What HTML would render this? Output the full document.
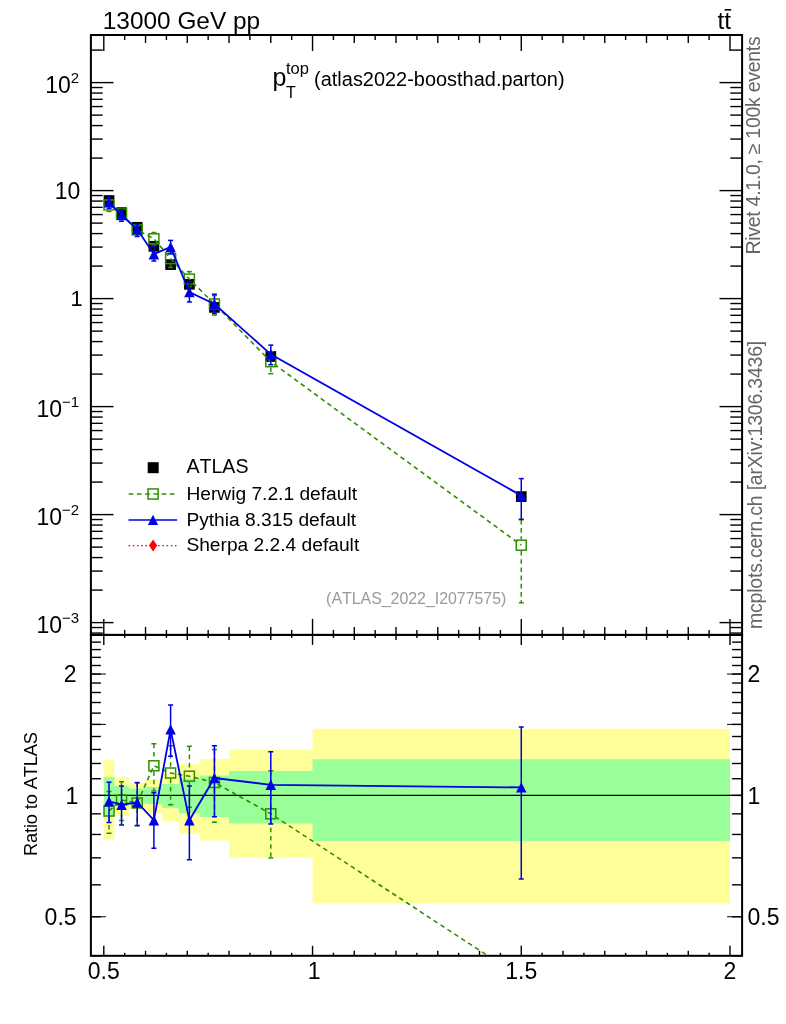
<!DOCTYPE html>
<html><head><meta charset="utf-8"><style>
html,body{margin:0;padding:0;background:#fff;width:786px;height:1024px;overflow:hidden}
svg{display:block;will-change:transform}
text{font-family:"Liberation Sans",sans-serif;font-kerning:none;font-feature-settings:"kern" 0}
</style></head><body>
<svg width="786" height="1024" viewBox="0 0 786 1024" font-family="Liberation Sans, sans-serif">
<defs><clipPath id="cmain"><rect x="90.9" y="35.0" width="651.2" height="599.9"/></clipPath>
<clipPath id="cratio"><rect x="90.9" y="634.9" width="651.2" height="320.9"/></clipPath></defs>
<rect width="786" height="1024" fill="#fff"/>
<path d="M103.80,759.90 L114.24,759.90 L114.24,777.10 L128.85,777.10 L128.85,782.70 L145.55,782.70 L145.55,779.10 L162.25,779.10 L162.25,773.90 L178.94,773.90 L178.94,764.20 L199.82,764.20 L199.82,758.90 L229.04,758.90 L229.04,749.60 L312.54,749.60 L312.54,728.80 L730.00,728.80 L730.00,903.60 L312.54,903.60 L312.54,857.40 L229.04,857.40 L229.04,840.40 L199.82,840.40 L199.82,833.30 L178.94,833.30 L178.94,821.00 L162.25,821.00 L162.25,813.40 L145.55,813.40 L145.55,809.50 L128.85,809.50 L128.85,815.90 L114.24,815.90 L114.24,839.60 L103.80,839.60 Z" fill="#ffff99"/>
<path d="M103.80,777.10 L114.24,777.10 L114.24,786.00 L128.85,786.00 L128.85,788.40 L145.55,788.40 L145.55,787.00 L162.25,787.00 L162.25,784.10 L178.94,784.10 L178.94,778.80 L199.82,778.80 L199.82,775.40 L229.04,775.40 L229.04,771.00 L312.54,771.00 L312.54,759.30 L730.00,759.30 L730.00,841.10 L312.54,841.10 L312.54,823.50 L229.04,823.50 L229.04,816.90 L199.82,816.90 L199.82,813.60 L178.94,813.60 L178.94,807.80 L162.25,807.80 L162.25,804.00 L145.55,804.00 L145.55,803.20 L128.85,803.20 L128.85,805.60 L114.24,805.60 L114.24,816.50 L103.80,816.50 Z" fill="#99ff99"/>
<line x1="90.90" y1="795.40" x2="742.10" y2="795.40" stroke="#000" stroke-width="1.2" />
<line x1="103.80" y1="35.00" x2="103.80" y2="51.00" stroke="#000" stroke-width="1.4" />
<line x1="124.67" y1="35.00" x2="124.67" y2="40.00" stroke="#000" stroke-width="1.4" />
<line x1="145.55" y1="35.00" x2="145.55" y2="43.00" stroke="#000" stroke-width="1.4" />
<line x1="166.42" y1="35.00" x2="166.42" y2="40.00" stroke="#000" stroke-width="1.4" />
<line x1="187.29" y1="35.00" x2="187.29" y2="43.00" stroke="#000" stroke-width="1.4" />
<line x1="208.17" y1="35.00" x2="208.17" y2="40.00" stroke="#000" stroke-width="1.4" />
<line x1="229.04" y1="35.00" x2="229.04" y2="43.00" stroke="#000" stroke-width="1.4" />
<line x1="249.91" y1="35.00" x2="249.91" y2="40.00" stroke="#000" stroke-width="1.4" />
<line x1="270.79" y1="35.00" x2="270.79" y2="43.00" stroke="#000" stroke-width="1.4" />
<line x1="291.66" y1="35.00" x2="291.66" y2="40.00" stroke="#000" stroke-width="1.4" />
<line x1="312.54" y1="35.00" x2="312.54" y2="51.00" stroke="#000" stroke-width="1.4" />
<line x1="333.41" y1="35.00" x2="333.41" y2="40.00" stroke="#000" stroke-width="1.4" />
<line x1="354.28" y1="35.00" x2="354.28" y2="43.00" stroke="#000" stroke-width="1.4" />
<line x1="375.16" y1="35.00" x2="375.16" y2="40.00" stroke="#000" stroke-width="1.4" />
<line x1="396.03" y1="35.00" x2="396.03" y2="43.00" stroke="#000" stroke-width="1.4" />
<line x1="416.90" y1="35.00" x2="416.90" y2="40.00" stroke="#000" stroke-width="1.4" />
<line x1="437.78" y1="35.00" x2="437.78" y2="43.00" stroke="#000" stroke-width="1.4" />
<line x1="458.65" y1="35.00" x2="458.65" y2="40.00" stroke="#000" stroke-width="1.4" />
<line x1="479.52" y1="35.00" x2="479.52" y2="43.00" stroke="#000" stroke-width="1.4" />
<line x1="500.40" y1="35.00" x2="500.40" y2="40.00" stroke="#000" stroke-width="1.4" />
<line x1="521.27" y1="35.00" x2="521.27" y2="51.00" stroke="#000" stroke-width="1.4" />
<line x1="542.14" y1="35.00" x2="542.14" y2="40.00" stroke="#000" stroke-width="1.4" />
<line x1="563.02" y1="35.00" x2="563.02" y2="43.00" stroke="#000" stroke-width="1.4" />
<line x1="583.89" y1="35.00" x2="583.89" y2="40.00" stroke="#000" stroke-width="1.4" />
<line x1="604.76" y1="35.00" x2="604.76" y2="43.00" stroke="#000" stroke-width="1.4" />
<line x1="625.64" y1="35.00" x2="625.64" y2="40.00" stroke="#000" stroke-width="1.4" />
<line x1="646.51" y1="35.00" x2="646.51" y2="43.00" stroke="#000" stroke-width="1.4" />
<line x1="667.38" y1="35.00" x2="667.38" y2="40.00" stroke="#000" stroke-width="1.4" />
<line x1="688.26" y1="35.00" x2="688.26" y2="43.00" stroke="#000" stroke-width="1.4" />
<line x1="709.13" y1="35.00" x2="709.13" y2="40.00" stroke="#000" stroke-width="1.4" />
<line x1="730.00" y1="35.00" x2="730.00" y2="51.00" stroke="#000" stroke-width="1.4" />
<line x1="103.80" y1="634.90" x2="103.80" y2="618.90" stroke="#000" stroke-width="1.4" />
<line x1="124.67" y1="634.90" x2="124.67" y2="629.90" stroke="#000" stroke-width="1.4" />
<line x1="145.55" y1="634.90" x2="145.55" y2="626.90" stroke="#000" stroke-width="1.4" />
<line x1="166.42" y1="634.90" x2="166.42" y2="629.90" stroke="#000" stroke-width="1.4" />
<line x1="187.29" y1="634.90" x2="187.29" y2="626.90" stroke="#000" stroke-width="1.4" />
<line x1="208.17" y1="634.90" x2="208.17" y2="629.90" stroke="#000" stroke-width="1.4" />
<line x1="229.04" y1="634.90" x2="229.04" y2="626.90" stroke="#000" stroke-width="1.4" />
<line x1="249.91" y1="634.90" x2="249.91" y2="629.90" stroke="#000" stroke-width="1.4" />
<line x1="270.79" y1="634.90" x2="270.79" y2="626.90" stroke="#000" stroke-width="1.4" />
<line x1="291.66" y1="634.90" x2="291.66" y2="629.90" stroke="#000" stroke-width="1.4" />
<line x1="312.54" y1="634.90" x2="312.54" y2="618.90" stroke="#000" stroke-width="1.4" />
<line x1="333.41" y1="634.90" x2="333.41" y2="629.90" stroke="#000" stroke-width="1.4" />
<line x1="354.28" y1="634.90" x2="354.28" y2="626.90" stroke="#000" stroke-width="1.4" />
<line x1="375.16" y1="634.90" x2="375.16" y2="629.90" stroke="#000" stroke-width="1.4" />
<line x1="396.03" y1="634.90" x2="396.03" y2="626.90" stroke="#000" stroke-width="1.4" />
<line x1="416.90" y1="634.90" x2="416.90" y2="629.90" stroke="#000" stroke-width="1.4" />
<line x1="437.78" y1="634.90" x2="437.78" y2="626.90" stroke="#000" stroke-width="1.4" />
<line x1="458.65" y1="634.90" x2="458.65" y2="629.90" stroke="#000" stroke-width="1.4" />
<line x1="479.52" y1="634.90" x2="479.52" y2="626.90" stroke="#000" stroke-width="1.4" />
<line x1="500.40" y1="634.90" x2="500.40" y2="629.90" stroke="#000" stroke-width="1.4" />
<line x1="521.27" y1="634.90" x2="521.27" y2="618.90" stroke="#000" stroke-width="1.4" />
<line x1="542.14" y1="634.90" x2="542.14" y2="629.90" stroke="#000" stroke-width="1.4" />
<line x1="563.02" y1="634.90" x2="563.02" y2="626.90" stroke="#000" stroke-width="1.4" />
<line x1="583.89" y1="634.90" x2="583.89" y2="629.90" stroke="#000" stroke-width="1.4" />
<line x1="604.76" y1="634.90" x2="604.76" y2="626.90" stroke="#000" stroke-width="1.4" />
<line x1="625.64" y1="634.90" x2="625.64" y2="629.90" stroke="#000" stroke-width="1.4" />
<line x1="646.51" y1="634.90" x2="646.51" y2="626.90" stroke="#000" stroke-width="1.4" />
<line x1="667.38" y1="634.90" x2="667.38" y2="629.90" stroke="#000" stroke-width="1.4" />
<line x1="688.26" y1="634.90" x2="688.26" y2="626.90" stroke="#000" stroke-width="1.4" />
<line x1="709.13" y1="634.90" x2="709.13" y2="629.90" stroke="#000" stroke-width="1.4" />
<line x1="730.00" y1="634.90" x2="730.00" y2="618.90" stroke="#000" stroke-width="1.4" />
<line x1="90.90" y1="633.07" x2="102.70" y2="633.07" stroke="#000" stroke-width="1.4" />
<line x1="90.90" y1="627.54" x2="102.70" y2="627.54" stroke="#000" stroke-width="1.4" />
<line x1="90.90" y1="622.60" x2="113.50" y2="622.60" stroke="#000" stroke-width="1.4" />
<line x1="90.90" y1="590.09" x2="102.70" y2="590.09" stroke="#000" stroke-width="1.4" />
<line x1="90.90" y1="571.07" x2="102.70" y2="571.07" stroke="#000" stroke-width="1.4" />
<line x1="90.90" y1="557.58" x2="102.70" y2="557.58" stroke="#000" stroke-width="1.4" />
<line x1="90.90" y1="547.11" x2="102.70" y2="547.11" stroke="#000" stroke-width="1.4" />
<line x1="90.90" y1="538.56" x2="102.70" y2="538.56" stroke="#000" stroke-width="1.4" />
<line x1="90.90" y1="531.33" x2="102.70" y2="531.33" stroke="#000" stroke-width="1.4" />
<line x1="90.90" y1="525.07" x2="102.70" y2="525.07" stroke="#000" stroke-width="1.4" />
<line x1="90.90" y1="519.54" x2="102.70" y2="519.54" stroke="#000" stroke-width="1.4" />
<line x1="90.90" y1="514.60" x2="113.50" y2="514.60" stroke="#000" stroke-width="1.4" />
<line x1="90.90" y1="482.09" x2="102.70" y2="482.09" stroke="#000" stroke-width="1.4" />
<line x1="90.90" y1="463.07" x2="102.70" y2="463.07" stroke="#000" stroke-width="1.4" />
<line x1="90.90" y1="449.58" x2="102.70" y2="449.58" stroke="#000" stroke-width="1.4" />
<line x1="90.90" y1="439.11" x2="102.70" y2="439.11" stroke="#000" stroke-width="1.4" />
<line x1="90.90" y1="430.56" x2="102.70" y2="430.56" stroke="#000" stroke-width="1.4" />
<line x1="90.90" y1="423.33" x2="102.70" y2="423.33" stroke="#000" stroke-width="1.4" />
<line x1="90.90" y1="417.07" x2="102.70" y2="417.07" stroke="#000" stroke-width="1.4" />
<line x1="90.90" y1="411.54" x2="102.70" y2="411.54" stroke="#000" stroke-width="1.4" />
<line x1="90.90" y1="406.60" x2="113.50" y2="406.60" stroke="#000" stroke-width="1.4" />
<line x1="90.90" y1="374.09" x2="102.70" y2="374.09" stroke="#000" stroke-width="1.4" />
<line x1="90.90" y1="355.07" x2="102.70" y2="355.07" stroke="#000" stroke-width="1.4" />
<line x1="90.90" y1="341.58" x2="102.70" y2="341.58" stroke="#000" stroke-width="1.4" />
<line x1="90.90" y1="331.11" x2="102.70" y2="331.11" stroke="#000" stroke-width="1.4" />
<line x1="90.90" y1="322.56" x2="102.70" y2="322.56" stroke="#000" stroke-width="1.4" />
<line x1="90.90" y1="315.33" x2="102.70" y2="315.33" stroke="#000" stroke-width="1.4" />
<line x1="90.90" y1="309.07" x2="102.70" y2="309.07" stroke="#000" stroke-width="1.4" />
<line x1="90.90" y1="303.54" x2="102.70" y2="303.54" stroke="#000" stroke-width="1.4" />
<line x1="90.90" y1="298.60" x2="113.50" y2="298.60" stroke="#000" stroke-width="1.4" />
<line x1="90.90" y1="266.09" x2="102.70" y2="266.09" stroke="#000" stroke-width="1.4" />
<line x1="90.90" y1="247.07" x2="102.70" y2="247.07" stroke="#000" stroke-width="1.4" />
<line x1="90.90" y1="233.58" x2="102.70" y2="233.58" stroke="#000" stroke-width="1.4" />
<line x1="90.90" y1="223.11" x2="102.70" y2="223.11" stroke="#000" stroke-width="1.4" />
<line x1="90.90" y1="214.56" x2="102.70" y2="214.56" stroke="#000" stroke-width="1.4" />
<line x1="90.90" y1="207.33" x2="102.70" y2="207.33" stroke="#000" stroke-width="1.4" />
<line x1="90.90" y1="201.07" x2="102.70" y2="201.07" stroke="#000" stroke-width="1.4" />
<line x1="90.90" y1="195.54" x2="102.70" y2="195.54" stroke="#000" stroke-width="1.4" />
<line x1="90.90" y1="190.60" x2="113.50" y2="190.60" stroke="#000" stroke-width="1.4" />
<line x1="90.90" y1="158.09" x2="102.70" y2="158.09" stroke="#000" stroke-width="1.4" />
<line x1="90.90" y1="139.07" x2="102.70" y2="139.07" stroke="#000" stroke-width="1.4" />
<line x1="90.90" y1="125.58" x2="102.70" y2="125.58" stroke="#000" stroke-width="1.4" />
<line x1="90.90" y1="115.11" x2="102.70" y2="115.11" stroke="#000" stroke-width="1.4" />
<line x1="90.90" y1="106.56" x2="102.70" y2="106.56" stroke="#000" stroke-width="1.4" />
<line x1="90.90" y1="99.33" x2="102.70" y2="99.33" stroke="#000" stroke-width="1.4" />
<line x1="90.90" y1="93.07" x2="102.70" y2="93.07" stroke="#000" stroke-width="1.4" />
<line x1="90.90" y1="87.54" x2="102.70" y2="87.54" stroke="#000" stroke-width="1.4" />
<line x1="90.90" y1="82.60" x2="113.50" y2="82.60" stroke="#000" stroke-width="1.4" />
<line x1="90.90" y1="50.09" x2="102.70" y2="50.09" stroke="#000" stroke-width="1.4" />
<line x1="742.10" y1="633.07" x2="730.30" y2="633.07" stroke="#000" stroke-width="1.4" />
<line x1="742.10" y1="627.54" x2="730.30" y2="627.54" stroke="#000" stroke-width="1.4" />
<line x1="742.10" y1="622.60" x2="719.50" y2="622.60" stroke="#000" stroke-width="1.4" />
<line x1="742.10" y1="590.09" x2="730.30" y2="590.09" stroke="#000" stroke-width="1.4" />
<line x1="742.10" y1="571.07" x2="730.30" y2="571.07" stroke="#000" stroke-width="1.4" />
<line x1="742.10" y1="557.58" x2="730.30" y2="557.58" stroke="#000" stroke-width="1.4" />
<line x1="742.10" y1="547.11" x2="730.30" y2="547.11" stroke="#000" stroke-width="1.4" />
<line x1="742.10" y1="538.56" x2="730.30" y2="538.56" stroke="#000" stroke-width="1.4" />
<line x1="742.10" y1="531.33" x2="730.30" y2="531.33" stroke="#000" stroke-width="1.4" />
<line x1="742.10" y1="525.07" x2="730.30" y2="525.07" stroke="#000" stroke-width="1.4" />
<line x1="742.10" y1="519.54" x2="730.30" y2="519.54" stroke="#000" stroke-width="1.4" />
<line x1="742.10" y1="514.60" x2="719.50" y2="514.60" stroke="#000" stroke-width="1.4" />
<line x1="742.10" y1="482.09" x2="730.30" y2="482.09" stroke="#000" stroke-width="1.4" />
<line x1="742.10" y1="463.07" x2="730.30" y2="463.07" stroke="#000" stroke-width="1.4" />
<line x1="742.10" y1="449.58" x2="730.30" y2="449.58" stroke="#000" stroke-width="1.4" />
<line x1="742.10" y1="439.11" x2="730.30" y2="439.11" stroke="#000" stroke-width="1.4" />
<line x1="742.10" y1="430.56" x2="730.30" y2="430.56" stroke="#000" stroke-width="1.4" />
<line x1="742.10" y1="423.33" x2="730.30" y2="423.33" stroke="#000" stroke-width="1.4" />
<line x1="742.10" y1="417.07" x2="730.30" y2="417.07" stroke="#000" stroke-width="1.4" />
<line x1="742.10" y1="411.54" x2="730.30" y2="411.54" stroke="#000" stroke-width="1.4" />
<line x1="742.10" y1="406.60" x2="719.50" y2="406.60" stroke="#000" stroke-width="1.4" />
<line x1="742.10" y1="374.09" x2="730.30" y2="374.09" stroke="#000" stroke-width="1.4" />
<line x1="742.10" y1="355.07" x2="730.30" y2="355.07" stroke="#000" stroke-width="1.4" />
<line x1="742.10" y1="341.58" x2="730.30" y2="341.58" stroke="#000" stroke-width="1.4" />
<line x1="742.10" y1="331.11" x2="730.30" y2="331.11" stroke="#000" stroke-width="1.4" />
<line x1="742.10" y1="322.56" x2="730.30" y2="322.56" stroke="#000" stroke-width="1.4" />
<line x1="742.10" y1="315.33" x2="730.30" y2="315.33" stroke="#000" stroke-width="1.4" />
<line x1="742.10" y1="309.07" x2="730.30" y2="309.07" stroke="#000" stroke-width="1.4" />
<line x1="742.10" y1="303.54" x2="730.30" y2="303.54" stroke="#000" stroke-width="1.4" />
<line x1="742.10" y1="298.60" x2="719.50" y2="298.60" stroke="#000" stroke-width="1.4" />
<line x1="742.10" y1="266.09" x2="730.30" y2="266.09" stroke="#000" stroke-width="1.4" />
<line x1="742.10" y1="247.07" x2="730.30" y2="247.07" stroke="#000" stroke-width="1.4" />
<line x1="742.10" y1="233.58" x2="730.30" y2="233.58" stroke="#000" stroke-width="1.4" />
<line x1="742.10" y1="223.11" x2="730.30" y2="223.11" stroke="#000" stroke-width="1.4" />
<line x1="742.10" y1="214.56" x2="730.30" y2="214.56" stroke="#000" stroke-width="1.4" />
<line x1="742.10" y1="207.33" x2="730.30" y2="207.33" stroke="#000" stroke-width="1.4" />
<line x1="742.10" y1="201.07" x2="730.30" y2="201.07" stroke="#000" stroke-width="1.4" />
<line x1="742.10" y1="195.54" x2="730.30" y2="195.54" stroke="#000" stroke-width="1.4" />
<line x1="742.10" y1="190.60" x2="719.50" y2="190.60" stroke="#000" stroke-width="1.4" />
<line x1="742.10" y1="158.09" x2="730.30" y2="158.09" stroke="#000" stroke-width="1.4" />
<line x1="742.10" y1="139.07" x2="730.30" y2="139.07" stroke="#000" stroke-width="1.4" />
<line x1="742.10" y1="125.58" x2="730.30" y2="125.58" stroke="#000" stroke-width="1.4" />
<line x1="742.10" y1="115.11" x2="730.30" y2="115.11" stroke="#000" stroke-width="1.4" />
<line x1="742.10" y1="106.56" x2="730.30" y2="106.56" stroke="#000" stroke-width="1.4" />
<line x1="742.10" y1="99.33" x2="730.30" y2="99.33" stroke="#000" stroke-width="1.4" />
<line x1="742.10" y1="93.07" x2="730.30" y2="93.07" stroke="#000" stroke-width="1.4" />
<line x1="742.10" y1="87.54" x2="730.30" y2="87.54" stroke="#000" stroke-width="1.4" />
<line x1="742.10" y1="82.60" x2="719.50" y2="82.60" stroke="#000" stroke-width="1.4" />
<line x1="742.10" y1="50.09" x2="730.30" y2="50.09" stroke="#000" stroke-width="1.4" />
<line x1="103.80" y1="634.90" x2="103.80" y2="644.90" stroke="#000" stroke-width="1.4" />
<line x1="124.67" y1="634.90" x2="124.67" y2="637.90" stroke="#000" stroke-width="1.4" />
<line x1="145.55" y1="634.90" x2="145.55" y2="639.90" stroke="#000" stroke-width="1.4" />
<line x1="166.42" y1="634.90" x2="166.42" y2="637.90" stroke="#000" stroke-width="1.4" />
<line x1="187.29" y1="634.90" x2="187.29" y2="639.90" stroke="#000" stroke-width="1.4" />
<line x1="208.17" y1="634.90" x2="208.17" y2="637.90" stroke="#000" stroke-width="1.4" />
<line x1="229.04" y1="634.90" x2="229.04" y2="639.90" stroke="#000" stroke-width="1.4" />
<line x1="249.91" y1="634.90" x2="249.91" y2="637.90" stroke="#000" stroke-width="1.4" />
<line x1="270.79" y1="634.90" x2="270.79" y2="639.90" stroke="#000" stroke-width="1.4" />
<line x1="291.66" y1="634.90" x2="291.66" y2="637.90" stroke="#000" stroke-width="1.4" />
<line x1="312.54" y1="634.90" x2="312.54" y2="644.90" stroke="#000" stroke-width="1.4" />
<line x1="333.41" y1="634.90" x2="333.41" y2="637.90" stroke="#000" stroke-width="1.4" />
<line x1="354.28" y1="634.90" x2="354.28" y2="639.90" stroke="#000" stroke-width="1.4" />
<line x1="375.16" y1="634.90" x2="375.16" y2="637.90" stroke="#000" stroke-width="1.4" />
<line x1="396.03" y1="634.90" x2="396.03" y2="639.90" stroke="#000" stroke-width="1.4" />
<line x1="416.90" y1="634.90" x2="416.90" y2="637.90" stroke="#000" stroke-width="1.4" />
<line x1="437.78" y1="634.90" x2="437.78" y2="639.90" stroke="#000" stroke-width="1.4" />
<line x1="458.65" y1="634.90" x2="458.65" y2="637.90" stroke="#000" stroke-width="1.4" />
<line x1="479.52" y1="634.90" x2="479.52" y2="639.90" stroke="#000" stroke-width="1.4" />
<line x1="500.40" y1="634.90" x2="500.40" y2="637.90" stroke="#000" stroke-width="1.4" />
<line x1="521.27" y1="634.90" x2="521.27" y2="644.90" stroke="#000" stroke-width="1.4" />
<line x1="542.14" y1="634.90" x2="542.14" y2="637.90" stroke="#000" stroke-width="1.4" />
<line x1="563.02" y1="634.90" x2="563.02" y2="639.90" stroke="#000" stroke-width="1.4" />
<line x1="583.89" y1="634.90" x2="583.89" y2="637.90" stroke="#000" stroke-width="1.4" />
<line x1="604.76" y1="634.90" x2="604.76" y2="639.90" stroke="#000" stroke-width="1.4" />
<line x1="625.64" y1="634.90" x2="625.64" y2="637.90" stroke="#000" stroke-width="1.4" />
<line x1="646.51" y1="634.90" x2="646.51" y2="639.90" stroke="#000" stroke-width="1.4" />
<line x1="667.38" y1="634.90" x2="667.38" y2="637.90" stroke="#000" stroke-width="1.4" />
<line x1="688.26" y1="634.90" x2="688.26" y2="639.90" stroke="#000" stroke-width="1.4" />
<line x1="709.13" y1="634.90" x2="709.13" y2="637.90" stroke="#000" stroke-width="1.4" />
<line x1="730.00" y1="634.90" x2="730.00" y2="644.90" stroke="#000" stroke-width="1.4" />
<line x1="103.80" y1="955.80" x2="103.80" y2="945.80" stroke="#000" stroke-width="1.4" />
<line x1="124.67" y1="955.80" x2="124.67" y2="952.80" stroke="#000" stroke-width="1.4" />
<line x1="145.55" y1="955.80" x2="145.55" y2="950.80" stroke="#000" stroke-width="1.4" />
<line x1="166.42" y1="955.80" x2="166.42" y2="952.80" stroke="#000" stroke-width="1.4" />
<line x1="187.29" y1="955.80" x2="187.29" y2="950.80" stroke="#000" stroke-width="1.4" />
<line x1="208.17" y1="955.80" x2="208.17" y2="952.80" stroke="#000" stroke-width="1.4" />
<line x1="229.04" y1="955.80" x2="229.04" y2="950.80" stroke="#000" stroke-width="1.4" />
<line x1="249.91" y1="955.80" x2="249.91" y2="952.80" stroke="#000" stroke-width="1.4" />
<line x1="270.79" y1="955.80" x2="270.79" y2="950.80" stroke="#000" stroke-width="1.4" />
<line x1="291.66" y1="955.80" x2="291.66" y2="952.80" stroke="#000" stroke-width="1.4" />
<line x1="312.54" y1="955.80" x2="312.54" y2="945.80" stroke="#000" stroke-width="1.4" />
<line x1="333.41" y1="955.80" x2="333.41" y2="952.80" stroke="#000" stroke-width="1.4" />
<line x1="354.28" y1="955.80" x2="354.28" y2="950.80" stroke="#000" stroke-width="1.4" />
<line x1="375.16" y1="955.80" x2="375.16" y2="952.80" stroke="#000" stroke-width="1.4" />
<line x1="396.03" y1="955.80" x2="396.03" y2="950.80" stroke="#000" stroke-width="1.4" />
<line x1="416.90" y1="955.80" x2="416.90" y2="952.80" stroke="#000" stroke-width="1.4" />
<line x1="437.78" y1="955.80" x2="437.78" y2="950.80" stroke="#000" stroke-width="1.4" />
<line x1="458.65" y1="955.80" x2="458.65" y2="952.80" stroke="#000" stroke-width="1.4" />
<line x1="479.52" y1="955.80" x2="479.52" y2="950.80" stroke="#000" stroke-width="1.4" />
<line x1="500.40" y1="955.80" x2="500.40" y2="952.80" stroke="#000" stroke-width="1.4" />
<line x1="521.27" y1="955.80" x2="521.27" y2="945.80" stroke="#000" stroke-width="1.4" />
<line x1="542.14" y1="955.80" x2="542.14" y2="952.80" stroke="#000" stroke-width="1.4" />
<line x1="563.02" y1="955.80" x2="563.02" y2="950.80" stroke="#000" stroke-width="1.4" />
<line x1="583.89" y1="955.80" x2="583.89" y2="952.80" stroke="#000" stroke-width="1.4" />
<line x1="604.76" y1="955.80" x2="604.76" y2="950.80" stroke="#000" stroke-width="1.4" />
<line x1="625.64" y1="955.80" x2="625.64" y2="952.80" stroke="#000" stroke-width="1.4" />
<line x1="646.51" y1="955.80" x2="646.51" y2="950.80" stroke="#000" stroke-width="1.4" />
<line x1="667.38" y1="955.80" x2="667.38" y2="952.80" stroke="#000" stroke-width="1.4" />
<line x1="688.26" y1="955.80" x2="688.26" y2="950.80" stroke="#000" stroke-width="1.4" />
<line x1="709.13" y1="955.80" x2="709.13" y2="952.80" stroke="#000" stroke-width="1.4" />
<line x1="730.00" y1="955.80" x2="730.00" y2="945.80" stroke="#000" stroke-width="1.4" />
<line x1="90.90" y1="955.81" x2="100.90" y2="955.81" stroke="#000" stroke-width="1.4" />
<line x1="742.10" y1="955.81" x2="732.10" y2="955.81" stroke="#000" stroke-width="1.4" />
<line x1="90.90" y1="916.75" x2="100.90" y2="916.75" stroke="#000" stroke-width="1.4" />
<line x1="742.10" y1="916.75" x2="732.10" y2="916.75" stroke="#000" stroke-width="1.4" />
<line x1="90.90" y1="884.83" x2="100.90" y2="884.83" stroke="#000" stroke-width="1.4" />
<line x1="742.10" y1="884.83" x2="732.10" y2="884.83" stroke="#000" stroke-width="1.4" />
<line x1="90.90" y1="857.84" x2="100.90" y2="857.84" stroke="#000" stroke-width="1.4" />
<line x1="742.10" y1="857.84" x2="732.10" y2="857.84" stroke="#000" stroke-width="1.4" />
<line x1="90.90" y1="834.46" x2="100.90" y2="834.46" stroke="#000" stroke-width="1.4" />
<line x1="742.10" y1="834.46" x2="732.10" y2="834.46" stroke="#000" stroke-width="1.4" />
<line x1="90.90" y1="813.84" x2="100.90" y2="813.84" stroke="#000" stroke-width="1.4" />
<line x1="742.10" y1="813.84" x2="732.10" y2="813.84" stroke="#000" stroke-width="1.4" />
<line x1="90.90" y1="795.40" x2="100.90" y2="795.40" stroke="#000" stroke-width="1.4" />
<line x1="742.10" y1="795.40" x2="732.10" y2="795.40" stroke="#000" stroke-width="1.4" />
<line x1="90.90" y1="778.71" x2="100.90" y2="778.71" stroke="#000" stroke-width="1.4" />
<line x1="742.10" y1="778.71" x2="732.10" y2="778.71" stroke="#000" stroke-width="1.4" />
<line x1="90.90" y1="763.48" x2="100.90" y2="763.48" stroke="#000" stroke-width="1.4" />
<line x1="742.10" y1="763.48" x2="732.10" y2="763.48" stroke="#000" stroke-width="1.4" />
<line x1="90.90" y1="749.47" x2="100.90" y2="749.47" stroke="#000" stroke-width="1.4" />
<line x1="742.10" y1="749.47" x2="732.10" y2="749.47" stroke="#000" stroke-width="1.4" />
<line x1="90.90" y1="736.50" x2="100.90" y2="736.50" stroke="#000" stroke-width="1.4" />
<line x1="742.10" y1="736.50" x2="732.10" y2="736.50" stroke="#000" stroke-width="1.4" />
<line x1="90.90" y1="724.42" x2="100.90" y2="724.42" stroke="#000" stroke-width="1.4" />
<line x1="742.10" y1="724.42" x2="732.10" y2="724.42" stroke="#000" stroke-width="1.4" />
<line x1="90.90" y1="713.12" x2="100.90" y2="713.12" stroke="#000" stroke-width="1.4" />
<line x1="742.10" y1="713.12" x2="732.10" y2="713.12" stroke="#000" stroke-width="1.4" />
<line x1="90.90" y1="702.51" x2="100.90" y2="702.51" stroke="#000" stroke-width="1.4" />
<line x1="742.10" y1="702.51" x2="732.10" y2="702.51" stroke="#000" stroke-width="1.4" />
<line x1="90.90" y1="692.50" x2="100.90" y2="692.50" stroke="#000" stroke-width="1.4" />
<line x1="742.10" y1="692.50" x2="732.10" y2="692.50" stroke="#000" stroke-width="1.4" />
<line x1="90.90" y1="683.03" x2="100.90" y2="683.03" stroke="#000" stroke-width="1.4" />
<line x1="742.10" y1="683.03" x2="732.10" y2="683.03" stroke="#000" stroke-width="1.4" />
<line x1="90.90" y1="674.05" x2="100.90" y2="674.05" stroke="#000" stroke-width="1.4" />
<line x1="742.10" y1="674.05" x2="732.10" y2="674.05" stroke="#000" stroke-width="1.4" />
<line x1="90.90" y1="665.51" x2="100.90" y2="665.51" stroke="#000" stroke-width="1.4" />
<line x1="742.10" y1="665.51" x2="732.10" y2="665.51" stroke="#000" stroke-width="1.4" />
<line x1="90.90" y1="657.37" x2="100.90" y2="657.37" stroke="#000" stroke-width="1.4" />
<line x1="742.10" y1="657.37" x2="732.10" y2="657.37" stroke="#000" stroke-width="1.4" />
<line x1="90.90" y1="649.59" x2="100.90" y2="649.59" stroke="#000" stroke-width="1.4" />
<line x1="742.10" y1="649.59" x2="732.10" y2="649.59" stroke="#000" stroke-width="1.4" />
<line x1="90.90" y1="642.14" x2="100.90" y2="642.14" stroke="#000" stroke-width="1.4" />
<line x1="742.10" y1="642.14" x2="732.10" y2="642.14" stroke="#000" stroke-width="1.4" />
<line x1="90.90" y1="916.75" x2="105.90" y2="916.75" stroke="#000" stroke-width="1.0" />
<line x1="742.10" y1="916.75" x2="727.10" y2="916.75" stroke="#000" stroke-width="1.0" />
<line x1="90.90" y1="795.40" x2="105.90" y2="795.40" stroke="#000" stroke-width="1.0" />
<line x1="742.10" y1="795.40" x2="727.10" y2="795.40" stroke="#000" stroke-width="1.0" />
<line x1="90.90" y1="724.42" x2="105.90" y2="724.42" stroke="#000" stroke-width="1.0" />
<line x1="742.10" y1="724.42" x2="727.10" y2="724.42" stroke="#000" stroke-width="1.0" />
<line x1="90.90" y1="674.05" x2="105.90" y2="674.05" stroke="#000" stroke-width="1.0" />
<line x1="742.10" y1="674.05" x2="727.10" y2="674.05" stroke="#000" stroke-width="1.0" />
<rect x="90.9" y="35.0" width="651.2" height="599.9" fill="none" stroke="#000" stroke-width="2"/>
<rect x="90.9" y="634.9" width="651.2" height="320.9" fill="none" stroke="#000" stroke-width="2"/>
<g clip-path="url(#cmain)">
<rect x="103.67" y="195.15" width="10.7" height="10.7" fill="#000"/>
<rect x="116.19" y="207.25" width="10.7" height="10.7" fill="#000"/>
<rect x="131.85" y="221.95" width="10.7" height="10.7" fill="#000"/>
<rect x="148.55" y="240.95" width="10.7" height="10.7" fill="#000"/>
<rect x="165.25" y="259.25" width="10.7" height="10.7" fill="#000"/>
<rect x="184.03" y="278.95" width="10.7" height="10.7" fill="#000"/>
<rect x="209.08" y="302.05" width="10.7" height="10.7" fill="#000"/>
<rect x="265.44" y="351.15" width="10.7" height="10.7" fill="#000"/>
<rect x="515.92" y="491.25" width="10.7" height="10.7" fill="#000"/>
<polyline points="109.02,204.90 121.54,214.00 137.20,229.80 153.90,238.80 170.60,258.60 189.38,279.10 214.43,304.00 270.79,361.70 521.27,545.20" fill="none" stroke="#2f8f00" stroke-width="1.6" stroke-dasharray="4.6,3.64"/>
<line x1="109.02" y1="210.60" x2="109.02" y2="211.40" stroke="#2f8f00" stroke-width="1.5" stroke-dasharray="4.6,3.64"/>
<line x1="106.52" y1="200.90" x2="111.52" y2="200.90" stroke="#2f8f00" stroke-width="1.5" />
<line x1="106.52" y1="211.40" x2="111.52" y2="211.40" stroke="#2f8f00" stroke-width="1.5" />
<rect x="104.02" y="199.90" width="10.0" height="10.0" fill="none" stroke="#2f8f00" stroke-width="1.5"/>
<line x1="119.04" y1="210.00" x2="124.04" y2="210.00" stroke="#2f8f00" stroke-width="1.5" />
<line x1="119.04" y1="219.00" x2="124.04" y2="219.00" stroke="#2f8f00" stroke-width="1.5" />
<rect x="116.54" y="209.00" width="10.0" height="10.0" fill="none" stroke="#2f8f00" stroke-width="1.5"/>
<line x1="134.70" y1="225.80" x2="139.70" y2="225.80" stroke="#2f8f00" stroke-width="1.5" />
<line x1="134.70" y1="234.80" x2="139.70" y2="234.80" stroke="#2f8f00" stroke-width="1.5" />
<rect x="132.20" y="224.80" width="10.0" height="10.0" fill="none" stroke="#2f8f00" stroke-width="1.5"/>
<line x1="153.90" y1="232.50" x2="153.90" y2="233.10" stroke="#2f8f00" stroke-width="1.5" stroke-dasharray="4.6,3.64"/>
<line x1="153.90" y1="244.50" x2="153.90" y2="245.10" stroke="#2f8f00" stroke-width="1.5" stroke-dasharray="4.6,3.64"/>
<line x1="151.40" y1="232.50" x2="156.40" y2="232.50" stroke="#2f8f00" stroke-width="1.5" />
<line x1="151.40" y1="245.10" x2="156.40" y2="245.10" stroke="#2f8f00" stroke-width="1.5" />
<rect x="148.90" y="233.80" width="10.0" height="10.0" fill="none" stroke="#2f8f00" stroke-width="1.5"/>
<line x1="170.60" y1="251.10" x2="170.60" y2="252.90" stroke="#2f8f00" stroke-width="1.5" stroke-dasharray="4.6,3.64"/>
<line x1="170.60" y1="264.30" x2="170.60" y2="267.50" stroke="#2f8f00" stroke-width="1.5" stroke-dasharray="4.6,3.64"/>
<line x1="168.10" y1="251.10" x2="173.10" y2="251.10" stroke="#2f8f00" stroke-width="1.5" />
<line x1="168.10" y1="267.50" x2="173.10" y2="267.50" stroke="#2f8f00" stroke-width="1.5" />
<rect x="165.60" y="253.60" width="10.0" height="10.0" fill="none" stroke="#2f8f00" stroke-width="1.5"/>
<line x1="189.38" y1="271.60" x2="189.38" y2="273.40" stroke="#2f8f00" stroke-width="1.5" stroke-dasharray="4.6,3.64"/>
<line x1="189.38" y1="284.80" x2="189.38" y2="286.60" stroke="#2f8f00" stroke-width="1.5" stroke-dasharray="4.6,3.64"/>
<line x1="186.88" y1="271.60" x2="191.88" y2="271.60" stroke="#2f8f00" stroke-width="1.5" />
<line x1="186.88" y1="286.60" x2="191.88" y2="286.60" stroke="#2f8f00" stroke-width="1.5" />
<rect x="184.38" y="274.10" width="10.0" height="10.0" fill="none" stroke="#2f8f00" stroke-width="1.5"/>
<line x1="214.43" y1="295.40" x2="214.43" y2="298.30" stroke="#2f8f00" stroke-width="1.5" stroke-dasharray="4.6,3.64"/>
<line x1="214.43" y1="309.70" x2="214.43" y2="315.10" stroke="#2f8f00" stroke-width="1.5" stroke-dasharray="4.6,3.64"/>
<line x1="211.93" y1="295.40" x2="216.93" y2="295.40" stroke="#2f8f00" stroke-width="1.5" />
<line x1="211.93" y1="315.10" x2="216.93" y2="315.10" stroke="#2f8f00" stroke-width="1.5" />
<rect x="209.43" y="299.00" width="10.0" height="10.0" fill="none" stroke="#2f8f00" stroke-width="1.5"/>
<line x1="270.79" y1="351.70" x2="270.79" y2="356.00" stroke="#2f8f00" stroke-width="1.5" stroke-dasharray="4.6,3.64"/>
<line x1="270.79" y1="367.40" x2="270.79" y2="373.70" stroke="#2f8f00" stroke-width="1.5" stroke-dasharray="4.6,3.64"/>
<line x1="268.29" y1="351.70" x2="273.29" y2="351.70" stroke="#2f8f00" stroke-width="1.5" />
<line x1="268.29" y1="373.70" x2="273.29" y2="373.70" stroke="#2f8f00" stroke-width="1.5" />
<rect x="265.79" y="356.70" width="10.0" height="10.0" fill="none" stroke="#2f8f00" stroke-width="1.5"/>
<line x1="521.27" y1="519.80" x2="521.27" y2="539.50" stroke="#2f8f00" stroke-width="1.5" stroke-dasharray="4.6,3.64"/>
<line x1="521.27" y1="550.90" x2="521.27" y2="602.80" stroke="#2f8f00" stroke-width="1.5" stroke-dasharray="4.6,3.64"/>
<line x1="518.77" y1="519.80" x2="523.77" y2="519.80" stroke="#2f8f00" stroke-width="1.5" />
<line x1="518.77" y1="602.80" x2="523.77" y2="602.80" stroke="#2f8f00" stroke-width="1.5" />
<rect x="516.27" y="540.20" width="10.0" height="10.0" fill="none" stroke="#2f8f00" stroke-width="1.5"/>
<polyline points="109.02,202.40 121.54,215.00 137.20,229.30 153.90,254.20 170.60,247.00 189.38,292.10 214.43,304.00 270.79,354.30 521.27,495.60" fill="none" stroke="#0000e6" stroke-width="1.8"/>
<line x1="109.02" y1="197.30" x2="109.02" y2="202.40" stroke="#0000e6" stroke-width="1.5" />
<line x1="109.02" y1="202.40" x2="109.02" y2="208.30" stroke="#0000e6" stroke-width="1.5" />
<line x1="106.52" y1="197.30" x2="111.52" y2="197.30" stroke="#0000e6" stroke-width="1.5" />
<line x1="106.52" y1="208.30" x2="111.52" y2="208.30" stroke="#0000e6" stroke-width="1.5" />
<polygon points="103.77,207.60 114.27,207.60 109.02,197.20" fill="#0000e6"/>
<line x1="121.54" y1="209.80" x2="121.54" y2="215.00" stroke="#0000e6" stroke-width="1.5" />
<line x1="121.54" y1="215.00" x2="121.54" y2="221.30" stroke="#0000e6" stroke-width="1.5" />
<line x1="119.04" y1="209.80" x2="124.04" y2="209.80" stroke="#0000e6" stroke-width="1.5" />
<line x1="119.04" y1="221.30" x2="124.04" y2="221.30" stroke="#0000e6" stroke-width="1.5" />
<polygon points="116.29,220.20 126.79,220.20 121.54,209.80" fill="#0000e6"/>
<line x1="137.20" y1="224.10" x2="137.20" y2="229.30" stroke="#0000e6" stroke-width="1.5" />
<line x1="137.20" y1="229.30" x2="137.20" y2="236.50" stroke="#0000e6" stroke-width="1.5" />
<line x1="134.70" y1="224.10" x2="139.70" y2="224.10" stroke="#0000e6" stroke-width="1.5" />
<line x1="134.70" y1="236.50" x2="139.70" y2="236.50" stroke="#0000e6" stroke-width="1.5" />
<polygon points="131.95,234.50 142.45,234.50 137.20,224.10" fill="#0000e6"/>
<line x1="153.90" y1="246.20" x2="153.90" y2="254.20" stroke="#0000e6" stroke-width="1.5" />
<line x1="153.90" y1="254.20" x2="153.90" y2="261.00" stroke="#0000e6" stroke-width="1.5" />
<line x1="151.40" y1="246.20" x2="156.40" y2="246.20" stroke="#0000e6" stroke-width="1.5" />
<line x1="151.40" y1="261.00" x2="156.40" y2="261.00" stroke="#0000e6" stroke-width="1.5" />
<polygon points="148.65,259.40 159.15,259.40 153.90,249.00" fill="#0000e6"/>
<line x1="170.60" y1="240.40" x2="170.60" y2="247.00" stroke="#0000e6" stroke-width="1.5" />
<line x1="170.60" y1="247.00" x2="170.60" y2="253.80" stroke="#0000e6" stroke-width="1.5" />
<line x1="168.10" y1="240.40" x2="173.10" y2="240.40" stroke="#0000e6" stroke-width="1.5" />
<line x1="168.10" y1="253.80" x2="173.10" y2="253.80" stroke="#0000e6" stroke-width="1.5" />
<polygon points="165.35,252.20 175.85,252.20 170.60,241.80" fill="#0000e6"/>
<line x1="189.38" y1="281.80" x2="189.38" y2="292.10" stroke="#0000e6" stroke-width="1.5" />
<line x1="189.38" y1="292.10" x2="189.38" y2="302.00" stroke="#0000e6" stroke-width="1.5" />
<line x1="186.88" y1="281.80" x2="191.88" y2="281.80" stroke="#0000e6" stroke-width="1.5" />
<line x1="186.88" y1="302.00" x2="191.88" y2="302.00" stroke="#0000e6" stroke-width="1.5" />
<polygon points="184.13,297.30 194.63,297.30 189.38,286.90" fill="#0000e6"/>
<line x1="214.43" y1="294.20" x2="214.43" y2="304.00" stroke="#0000e6" stroke-width="1.5" />
<line x1="214.43" y1="304.00" x2="214.43" y2="313.50" stroke="#0000e6" stroke-width="1.5" />
<line x1="211.93" y1="294.20" x2="216.93" y2="294.20" stroke="#0000e6" stroke-width="1.5" />
<line x1="211.93" y1="313.50" x2="216.93" y2="313.50" stroke="#0000e6" stroke-width="1.5" />
<polygon points="209.18,309.20 219.68,309.20 214.43,298.80" fill="#0000e6"/>
<line x1="270.79" y1="345.10" x2="270.79" y2="354.30" stroke="#0000e6" stroke-width="1.5" />
<line x1="270.79" y1="354.30" x2="270.79" y2="364.70" stroke="#0000e6" stroke-width="1.5" />
<line x1="268.29" y1="345.10" x2="273.29" y2="345.10" stroke="#0000e6" stroke-width="1.5" />
<line x1="268.29" y1="364.70" x2="273.29" y2="364.70" stroke="#0000e6" stroke-width="1.5" />
<polygon points="265.54,359.50 276.04,359.50 270.79,349.10" fill="#0000e6"/>
<line x1="521.27" y1="478.60" x2="521.27" y2="495.60" stroke="#0000e6" stroke-width="1.5" />
<line x1="521.27" y1="495.60" x2="521.27" y2="519.30" stroke="#0000e6" stroke-width="1.5" />
<line x1="518.77" y1="478.60" x2="523.77" y2="478.60" stroke="#0000e6" stroke-width="1.5" />
<line x1="518.77" y1="519.30" x2="523.77" y2="519.30" stroke="#0000e6" stroke-width="1.5" />
<polygon points="516.02,500.80 526.52,500.80 521.27,490.40" fill="#0000e6"/>
</g>
<g clip-path="url(#cratio)">
<polyline points="109.02,811.00 121.54,800.00 137.20,803.00 153.90,765.80 170.60,773.00 189.38,776.20 214.43,782.50 270.79,813.80 521.27,977.60" fill="none" stroke="#2f8f00" stroke-width="1.6" stroke-dasharray="4.6,3.64"/>
<line x1="109.02" y1="791.50" x2="109.02" y2="805.30" stroke="#2f8f00" stroke-width="1.5" stroke-dasharray="4.6,3.64"/>
<line x1="109.02" y1="816.70" x2="109.02" y2="833.20" stroke="#2f8f00" stroke-width="1.5" stroke-dasharray="4.6,3.64"/>
<line x1="106.52" y1="791.50" x2="111.52" y2="791.50" stroke="#2f8f00" stroke-width="1.5" />
<line x1="106.52" y1="833.20" x2="111.52" y2="833.20" stroke="#2f8f00" stroke-width="1.5" />
<rect x="104.02" y="806.00" width="10.0" height="10.0" fill="none" stroke="#2f8f00" stroke-width="1.5"/>
<line x1="121.54" y1="781.70" x2="121.54" y2="794.30" stroke="#2f8f00" stroke-width="1.5" stroke-dasharray="4.6,3.64"/>
<line x1="121.54" y1="805.70" x2="121.54" y2="820.50" stroke="#2f8f00" stroke-width="1.5" stroke-dasharray="4.6,3.64"/>
<line x1="119.04" y1="781.70" x2="124.04" y2="781.70" stroke="#2f8f00" stroke-width="1.5" />
<line x1="119.04" y1="820.50" x2="124.04" y2="820.50" stroke="#2f8f00" stroke-width="1.5" />
<rect x="116.54" y="795.00" width="10.0" height="10.0" fill="none" stroke="#2f8f00" stroke-width="1.5"/>
<line x1="137.20" y1="782.50" x2="137.20" y2="797.30" stroke="#2f8f00" stroke-width="1.5" stroke-dasharray="4.6,3.64"/>
<line x1="137.20" y1="808.70" x2="137.20" y2="825.70" stroke="#2f8f00" stroke-width="1.5" stroke-dasharray="4.6,3.64"/>
<line x1="134.70" y1="782.50" x2="139.70" y2="782.50" stroke="#2f8f00" stroke-width="1.5" />
<line x1="134.70" y1="825.70" x2="139.70" y2="825.70" stroke="#2f8f00" stroke-width="1.5" />
<rect x="132.20" y="798.00" width="10.0" height="10.0" fill="none" stroke="#2f8f00" stroke-width="1.5"/>
<line x1="153.90" y1="743.70" x2="153.90" y2="760.10" stroke="#2f8f00" stroke-width="1.5" stroke-dasharray="4.6,3.64"/>
<line x1="153.90" y1="771.50" x2="153.90" y2="790.90" stroke="#2f8f00" stroke-width="1.5" stroke-dasharray="4.6,3.64"/>
<line x1="151.40" y1="743.70" x2="156.40" y2="743.70" stroke="#2f8f00" stroke-width="1.5" />
<line x1="151.40" y1="790.90" x2="156.40" y2="790.90" stroke="#2f8f00" stroke-width="1.5" />
<rect x="148.90" y="760.80" width="10.0" height="10.0" fill="none" stroke="#2f8f00" stroke-width="1.5"/>
<line x1="170.60" y1="745.70" x2="170.60" y2="767.30" stroke="#2f8f00" stroke-width="1.5" stroke-dasharray="4.6,3.64"/>
<line x1="170.60" y1="778.70" x2="170.60" y2="804.70" stroke="#2f8f00" stroke-width="1.5" stroke-dasharray="4.6,3.64"/>
<line x1="168.10" y1="745.70" x2="173.10" y2="745.70" stroke="#2f8f00" stroke-width="1.5" />
<line x1="168.10" y1="804.70" x2="173.10" y2="804.70" stroke="#2f8f00" stroke-width="1.5" />
<rect x="165.60" y="768.00" width="10.0" height="10.0" fill="none" stroke="#2f8f00" stroke-width="1.5"/>
<line x1="189.38" y1="746.30" x2="189.38" y2="770.50" stroke="#2f8f00" stroke-width="1.5" stroke-dasharray="4.6,3.64"/>
<line x1="189.38" y1="781.90" x2="189.38" y2="807.20" stroke="#2f8f00" stroke-width="1.5" stroke-dasharray="4.6,3.64"/>
<line x1="186.88" y1="746.30" x2="191.88" y2="746.30" stroke="#2f8f00" stroke-width="1.5" />
<line x1="186.88" y1="807.20" x2="191.88" y2="807.20" stroke="#2f8f00" stroke-width="1.5" />
<rect x="184.38" y="771.20" width="10.0" height="10.0" fill="none" stroke="#2f8f00" stroke-width="1.5"/>
<line x1="214.43" y1="749.60" x2="214.43" y2="776.80" stroke="#2f8f00" stroke-width="1.5" stroke-dasharray="4.6,3.64"/>
<line x1="214.43" y1="788.20" x2="214.43" y2="822.30" stroke="#2f8f00" stroke-width="1.5" stroke-dasharray="4.6,3.64"/>
<line x1="211.93" y1="749.60" x2="216.93" y2="749.60" stroke="#2f8f00" stroke-width="1.5" />
<line x1="211.93" y1="822.30" x2="216.93" y2="822.30" stroke="#2f8f00" stroke-width="1.5" />
<rect x="209.43" y="777.50" width="10.0" height="10.0" fill="none" stroke="#2f8f00" stroke-width="1.5"/>
<line x1="270.79" y1="770.80" x2="270.79" y2="808.10" stroke="#2f8f00" stroke-width="1.5" stroke-dasharray="4.6,3.64"/>
<line x1="270.79" y1="819.50" x2="270.79" y2="857.90" stroke="#2f8f00" stroke-width="1.5" stroke-dasharray="4.6,3.64"/>
<line x1="268.29" y1="770.80" x2="273.29" y2="770.80" stroke="#2f8f00" stroke-width="1.5" />
<line x1="268.29" y1="857.90" x2="273.29" y2="857.90" stroke="#2f8f00" stroke-width="1.5" />
<rect x="265.79" y="808.80" width="10.0" height="10.0" fill="none" stroke="#2f8f00" stroke-width="1.5"/>
<polyline points="109.02,801.40 121.54,804.70 137.20,802.50 153.90,820.20 170.60,729.40 189.38,820.30 214.43,778.00 270.79,784.80 521.27,787.40" fill="none" stroke="#0000e6" stroke-width="1.8"/>
<line x1="109.02" y1="782.20" x2="109.02" y2="801.40" stroke="#0000e6" stroke-width="1.5" />
<line x1="109.02" y1="801.40" x2="109.02" y2="822.50" stroke="#0000e6" stroke-width="1.5" />
<line x1="106.52" y1="782.20" x2="111.52" y2="782.20" stroke="#0000e6" stroke-width="1.5" />
<line x1="106.52" y1="822.50" x2="111.52" y2="822.50" stroke="#0000e6" stroke-width="1.5" />
<polygon points="103.77,806.60 114.27,806.60 109.02,796.20" fill="#0000e6"/>
<line x1="121.54" y1="786.10" x2="121.54" y2="804.70" stroke="#0000e6" stroke-width="1.5" />
<line x1="121.54" y1="804.70" x2="121.54" y2="825.00" stroke="#0000e6" stroke-width="1.5" />
<line x1="119.04" y1="786.10" x2="124.04" y2="786.10" stroke="#0000e6" stroke-width="1.5" />
<line x1="119.04" y1="825.00" x2="124.04" y2="825.00" stroke="#0000e6" stroke-width="1.5" />
<polygon points="116.29,809.90 126.79,809.90 121.54,799.50" fill="#0000e6"/>
<line x1="137.20" y1="782.70" x2="137.20" y2="802.50" stroke="#0000e6" stroke-width="1.5" />
<line x1="137.20" y1="802.50" x2="137.20" y2="825.40" stroke="#0000e6" stroke-width="1.5" />
<line x1="134.70" y1="782.70" x2="139.70" y2="782.70" stroke="#0000e6" stroke-width="1.5" />
<line x1="134.70" y1="825.40" x2="139.70" y2="825.40" stroke="#0000e6" stroke-width="1.5" />
<polygon points="131.95,807.70 142.45,807.70 137.20,797.30" fill="#0000e6"/>
<line x1="153.90" y1="792.80" x2="153.90" y2="820.20" stroke="#0000e6" stroke-width="1.5" />
<line x1="153.90" y1="820.20" x2="153.90" y2="848.20" stroke="#0000e6" stroke-width="1.5" />
<line x1="151.40" y1="792.80" x2="156.40" y2="792.80" stroke="#0000e6" stroke-width="1.5" />
<line x1="151.40" y1="848.20" x2="156.40" y2="848.20" stroke="#0000e6" stroke-width="1.5" />
<polygon points="148.65,825.40 159.15,825.40 153.90,815.00" fill="#0000e6"/>
<line x1="170.60" y1="705.10" x2="170.60" y2="729.40" stroke="#0000e6" stroke-width="1.5" />
<line x1="170.60" y1="729.40" x2="170.60" y2="756.30" stroke="#0000e6" stroke-width="1.5" />
<line x1="168.10" y1="705.10" x2="173.10" y2="705.10" stroke="#0000e6" stroke-width="1.5" />
<line x1="168.10" y1="756.30" x2="173.10" y2="756.30" stroke="#0000e6" stroke-width="1.5" />
<polygon points="165.35,734.60 175.85,734.60 170.60,724.20" fill="#0000e6"/>
<line x1="189.38" y1="786.00" x2="189.38" y2="820.30" stroke="#0000e6" stroke-width="1.5" />
<line x1="189.38" y1="820.30" x2="189.38" y2="859.70" stroke="#0000e6" stroke-width="1.5" />
<line x1="186.88" y1="786.00" x2="191.88" y2="786.00" stroke="#0000e6" stroke-width="1.5" />
<line x1="186.88" y1="859.70" x2="191.88" y2="859.70" stroke="#0000e6" stroke-width="1.5" />
<polygon points="184.13,825.50 194.63,825.50 189.38,815.10" fill="#0000e6"/>
<line x1="214.43" y1="745.70" x2="214.43" y2="778.00" stroke="#0000e6" stroke-width="1.5" />
<line x1="214.43" y1="778.00" x2="214.43" y2="816.70" stroke="#0000e6" stroke-width="1.5" />
<line x1="211.93" y1="745.70" x2="216.93" y2="745.70" stroke="#0000e6" stroke-width="1.5" />
<line x1="211.93" y1="816.70" x2="216.93" y2="816.70" stroke="#0000e6" stroke-width="1.5" />
<polygon points="209.18,783.20 219.68,783.20 214.43,772.80" fill="#0000e6"/>
<line x1="270.79" y1="751.70" x2="270.79" y2="784.80" stroke="#0000e6" stroke-width="1.5" />
<line x1="270.79" y1="784.80" x2="270.79" y2="824.00" stroke="#0000e6" stroke-width="1.5" />
<line x1="268.29" y1="751.70" x2="273.29" y2="751.70" stroke="#0000e6" stroke-width="1.5" />
<line x1="268.29" y1="824.00" x2="273.29" y2="824.00" stroke="#0000e6" stroke-width="1.5" />
<polygon points="265.54,790.00 276.04,790.00 270.79,779.60" fill="#0000e6"/>
<line x1="521.27" y1="727.10" x2="521.27" y2="787.40" stroke="#0000e6" stroke-width="1.5" />
<line x1="521.27" y1="787.40" x2="521.27" y2="878.90" stroke="#0000e6" stroke-width="1.5" />
<line x1="518.77" y1="727.10" x2="523.77" y2="727.10" stroke="#0000e6" stroke-width="1.5" />
<line x1="518.77" y1="878.90" x2="523.77" y2="878.90" stroke="#0000e6" stroke-width="1.5" />
<polygon points="516.02,792.60 526.52,792.60 521.27,782.20" fill="#0000e6"/>
</g>
<text x="79.10" y="92.60" font-size="23" text-anchor="end">10<tspan font-size="15" dy="-9.5">2</tspan></text>
<text x="80.40" y="199.20" font-size="23" fill="#000" text-anchor="end" >10</text>
<text x="82.60" y="306.40" font-size="21.8" fill="#000" text-anchor="end" >1</text>
<text x="79.10" y="416.60" font-size="23" text-anchor="end">10<tspan font-size="15" dy="-9.5">−1</tspan></text>
<text x="79.10" y="524.60" font-size="23" text-anchor="end">10<tspan font-size="15" dy="-9.5">−2</tspan></text>
<text x="79.10" y="632.60" font-size="23" text-anchor="end">10<tspan font-size="15" dy="-9.5">−3</tspan></text>
<text x="76.60" y="682.35" font-size="23" fill="#000" text-anchor="end" >2</text>
<text x="747.50" y="682.35" font-size="23" fill="#000" text-anchor="start" >2</text>
<text x="78.40" y="803.70" font-size="23" fill="#000" text-anchor="end" >1</text>
<text x="747.50" y="803.70" font-size="23" fill="#000" text-anchor="start" >1</text>
<text x="76.60" y="925.05" font-size="23" fill="#000" text-anchor="end" >0.5</text>
<text x="747.50" y="925.05" font-size="23" fill="#000" text-anchor="start" >0.5</text>
<text x="103.80" y="978.60" font-size="23" fill="#000" text-anchor="middle" >0.5</text>
<text x="314.14" y="978.60" font-size="23" fill="#000" text-anchor="middle" >1</text>
<text x="521.27" y="978.60" font-size="23" fill="#000" text-anchor="middle" >1.5</text>
<text x="730.00" y="978.60" font-size="23" fill="#000" text-anchor="middle" >2</text>
<text x="102.80" y="29.30" font-size="24.4" fill="#000" text-anchor="start" >13000 GeV pp</text>
<text x="717.60" y="29.30" font-size="24.4" fill="#000" text-anchor="start" >tt</text>
<line x1="724.60" y1="9.80" x2="731.20" y2="9.80" stroke="#000" stroke-width="1.6" />
<text x="272.5" y="86.3" font-size="25">p</text>
<text x="286" y="97.8" font-size="16">T</text>
<text x="286" y="73.6" font-size="16.5">top</text>
<text x="314.10" y="86.10" font-size="19.95" fill="#000" text-anchor="start" >(atlas2022-boosthad.parton)</text>
<rect x="147.70" y="462.20" width="11" height="11" fill="#000"/>
<text x="186.40" y="473.40" font-size="19.6" fill="#000" text-anchor="start" >ATLAS</text>
<line x1="128.70" y1="494.00" x2="175.50" y2="494.00" stroke="#2f8f00" stroke-width="1.6" stroke-dasharray="4.6,3.64"/>
<rect x="148.05" y="488.95" width="10.1" height="10.1" fill="none" stroke="#2f8f00" stroke-width="1.5"/>
<text x="186.40" y="499.60" font-size="19.2" fill="#000" text-anchor="start" >Herwig 7.2.1 default</text>
<line x1="128.50" y1="520.00" x2="177.20" y2="520.00" stroke="#0000e6" stroke-width="1.6" />
<polygon points="147.85,524.95 158.15,524.95 153.00,514.65" fill="#0000e6"/>
<text x="186.40" y="525.80" font-size="19.2" fill="#000" text-anchor="start" >Pythia 8.315 default</text>
<line x1="128.50" y1="545.60" x2="176.50" y2="545.60" stroke="#ff0000" stroke-width="1.4" stroke-dasharray="1.6,2.63"/>
<polygon points="148.95,545.40 153.10,539.40 157.25,545.40 153.10,551.40" fill="#ff0000"/>
<text x="186.40" y="551.30" font-size="19.2" fill="#000" text-anchor="start" >Sherpa 2.2.4 default</text>
<text x="326.10" y="603.70" font-size="15.9" fill="#999999" text-anchor="start" >(ATLAS_2022_I2077575)</text>
<text transform="translate(760.3,254.5) rotate(-90)" font-size="19.5" fill="#666666" textLength="218.2" lengthAdjust="spacing">Rivet 4.1.0, ≥ 100k events</text>
<text transform="translate(761.6,629.0) rotate(-90)" font-size="19.5" fill="#666666" textLength="288.3" lengthAdjust="spacing">mcplots.cern.ch [arXiv:1306.3436]</text>
<text transform="translate(37,856.0) rotate(-90)" font-size="18.3" fill="#000" textLength="124" lengthAdjust="spacing">Ratio to ATLAS</text>
</svg>
</body></html>
